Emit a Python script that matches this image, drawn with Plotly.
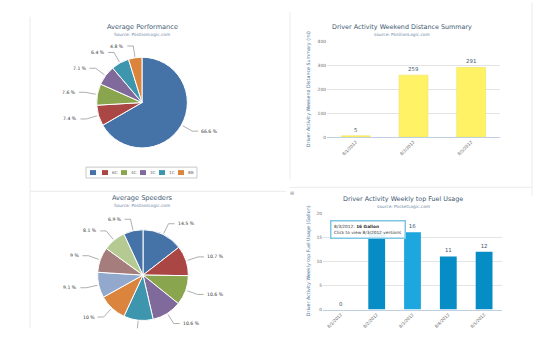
import math
import plotly.graph_objects as go

W, H = 541, 354
def px(x): return x / W
def py(y): return 1 - y / H

# ---------------- data ----------------
perf_labels = ["", "6C", "4C", "3C", "1C", "8B"]
perf_values = [66.6, 7.4, 7.6, 7.1, 6.4, 4.8]

speed_labels = ["S1", "S2", "S3", "S4", "S5", "S6", "S7", "S8", "S9", "S10"]
speed_values = [14.5, 10.7, 10.6, 10.6, 10.5, 10.0, 9.1, 9.0, 8.1, 6.9]

dist_dates = ["8/1/2012", "8/3/2012", "8/5/2012"]
dist_values = [5, 259, 291]

fuel_dates = ["8/1/2012", "8/2/2012", "8/3/2012", "8/4/2012", "8/5/2012"]
fuel_values = [0, 16, 16, 11, 12]
fuel_hover_index = 2

palette = ["#4572A7", "#AA4643", "#89A54E", "#80699B", "#3D96AE",
           "#DB843D", "#92A8CD", "#A47D7C", "#B5CA92"]

FONT = "DejaVu Sans"
TITLE_C = "#3E576F"
SUB_C = "#6D869F"
AXT_C = "#4D759E"
TICK_C = "#666666"
GRID_C = "#E4E4E4"

shapes = []
annotations = []

def add_text(x, y, text, size, color, xanchor="center", yanchor="middle", angle=0):
    annotations.append(dict(x=px(x), y=py(y), xref="paper", yref="paper", text=text,
                            showarrow=False, xanchor=xanchor, yanchor=yanchor,
                            textangle=angle, font=dict(family=FONT, size=size, color=color)))

def line(x0, y0, x1, y1, color="#EBEBEB", width=1):
    shapes.append(dict(type="line", xref="paper", yref="paper", x0=px(x0), y0=py(y0),
                       x1=px(x1), y1=py(y1), line=dict(color=color, width=width)))

# panel borders
line(30, 15, 30, 331)
line(30, 192, 286, 192)
line(290, 10, 290, 180)
line(532, 0, 532, 197)
line(290, 188, 532, 188)
add_text(292, 194, "⊞", 5, "#999999")

# ---------------- pies ----------------
def pie_trace(labels, values, cx, cy, r):
    colors = [palette[i % len(palette)] for i in range(len(values))]
    return go.Pie(labels=labels, values=values, sort=False, direction="clockwise",
                  rotation=0, textinfo="none", hoverinfo="skip",
                  marker=dict(colors=colors, line=dict(color="white", width=1)),
                  domain=dict(x=[px(cx - r), px(cx + r)], y=[py(cy + r), py(cy - r)]),
                  showlegend=False)

def pie_labels(values, cx, cy, r, clip_y):
    total = sum(values)
    cum = 0.0
    for v in values:
        mid = (cum + v / 2) / total * 2 * math.pi
        cum += v
        dx, dy = math.sin(mid), -math.cos(mid)
        x0, y0 = cx + dx * (r + 1), cy + dy * (r + 1)
        x1, y1 = cx + dx * (r + 12), cy + dy * (r + 12)
        side = 1 if dx >= 0 else -1
        x2 = x1 + side * 6
        if y1 > clip_y:
            t = (clip_y - y0) / (y1 - y0)
            line(x0, y0, x0 + (x1 - x0) * t, clip_y, color="#999999", width=0.8)
            continue
        path = "M %f %f L %f %f L %f %f" % (px(x0), py(y0), px(x1), py(y1), px(x2), py(y1))
        shapes.append(dict(type="path", xref="paper", yref="paper", path=path,
                           line=dict(color="#999999", width=0.8)))
        add_text(x2 + side * 1, y1, "%g %%" % v, 4.6, "#333333",
                 xanchor="left" if side > 0 else "right")

P1 = (142, 102, 46)
P2 = (143, 277, 46)

fig = go.Figure()
fig.add_trace(pie_trace(perf_labels, perf_values, *P1))
fig.add_trace(pie_trace(speed_labels, speed_values, *P2))
pie_labels(perf_values, *P1, clip_y=185)
pie_labels(speed_values, *P2, clip_y=331)

add_text(142, 25, "Average Performance", 6.6, TITLE_C)
add_text(142, 32.5, "Source: PositionLogic.com", 4.3, SUB_C)
add_text(142, 199, "Average Speeders", 6.6, TITLE_C)
add_text(142, 206.5, "Source: PositionLogic.com", 4.3, SUB_C)

# manual legend for first pie
shapes.append(dict(type="rect", xref="paper", yref="paper", x0=px(86), x1=px(197),
                   y0=py(178.5), y1=py(167.5), line=dict(color="#BBBBBB", width=0.8),
                   fillcolor="white"))
lx = 90
for i, lab in enumerate(perf_labels):
    shapes.append(dict(type="rect", xref="paper", yref="paper", x0=px(lx), x1=px(lx + 6),
                       y0=py(175.5), y1=py(170.5), line=dict(width=0),
                       fillcolor=palette[i % len(palette)]))
    if lab:
        add_text(lx + 8, 173, lab, 4.2, "#666666", xanchor="left")
        lx += 8 + 3 * len(lab) + 5
    else:
        lx += 12

# ---------------- bar charts ----------------
fig.add_trace(go.Bar(x=dist_dates, y=dist_values, xaxis="x", yaxis="y", width=0.5,
                     marker=dict(color="#FFF264", line=dict(color="#F2E25A", width=0.6)),
                     text=dist_values, textposition="outside", cliponaxis=False,
                     textfont=dict(family=FONT, size=5.4, color=TITLE_C),
                     hoverinfo="skip", showlegend=False))

fuel_colors = ["#1EA6DF" if i == fuel_hover_index else "#078DC6" for i in range(len(fuel_values))]
# the label of the bar left of the hovered one lies under the tooltip, so it is not drawn
fuel_text = ["" if i == fuel_hover_index - 1 else str(v) for i, v in enumerate(fuel_values)]
fig.add_trace(go.Bar(x=fuel_dates, y=fuel_values, xaxis="x2", yaxis="y2", width=0.47,
                     marker=dict(color=fuel_colors, line=dict(width=0)),
                     text=fuel_text, textposition="outside", cliponaxis=False,
                     textfont=dict(family=FONT, size=5.4, color=TITLE_C),
                     hoverinfo="skip", showlegend=False))

add_text(402, 25, "Driver Activity Weekend Distance Summary", 6.4, TITLE_C)
add_text(402, 32.5, "source: PositionLogic.com", 4.3, SUB_C)
add_text(308, 88.5, "Driver Activity Weekend Distance Summary (mi)", 4.8, AXT_C, angle=-90)

add_text(403, 200, "Driver Activity Weekly top Fuel Usage", 6.4, TITLE_C)
add_text(403, 207, "source: PocketLogic.com", 4.3, SUB_C)
add_text(308, 263, "Driver Activity Weekly top Fuel Usage (Gallon)", 4.8, AXT_C, angle=-90)

# tooltip on hovered fuel bar
annotations.append(dict(
    x=px(368), y=py(231), xref="paper", yref="paper", showarrow=False,
    xanchor="center", yanchor="middle", align="left",
    text="%s: <b>%g Gallon</b><br>Click to view %s versions" % (
        fuel_dates[fuel_hover_index], fuel_values[fuel_hover_index], fuel_dates[fuel_hover_index]),
    font=dict(family=FONT, size=4.3, color="#333333"),
    bgcolor="rgba(255,255,255,0.93)", bordercolor="#7CC7E6", borderwidth=1.5, borderpad=2.5))

axis_common = dict(type="category", tickangle=-45, showgrid=False, showline=True,
                   linecolor="#C0D0E0", linewidth=1, ticks="", zeroline=False,
                   tickfont=dict(family=FONT, size=4.2, color=TICK_C), fixedrange=True)
yaxis_common = dict(showgrid=True, gridcolor=GRID_C, gridwidth=1, zeroline=False,
                    showline=False, ticks="", tickfont=dict(family=FONT, size=4.4, color=TICK_C),
                    fixedrange=True)

fig.update_layout(
    width=W, height=H, margin=dict(l=0, r=0, t=0, b=0),
    paper_bgcolor="white", plot_bgcolor="white", showlegend=False,
    xaxis=dict(domain=[px(327), px(500)], anchor="y", **axis_common),
    yaxis=dict(domain=[py(137), py(40)], range=[0, 400], dtick=100, anchor="x", **yaxis_common),
    xaxis2=dict(domain=[px(323), px(502)], anchor="y2", **axis_common),
    yaxis2=dict(domain=[py(312), py(214)], range=[0, 20], dtick=5, anchor="x2", **yaxis_common),
    shapes=shapes, annotations=annotations,
    font=dict(family=FONT),
)

fig.write_html("out.html")
